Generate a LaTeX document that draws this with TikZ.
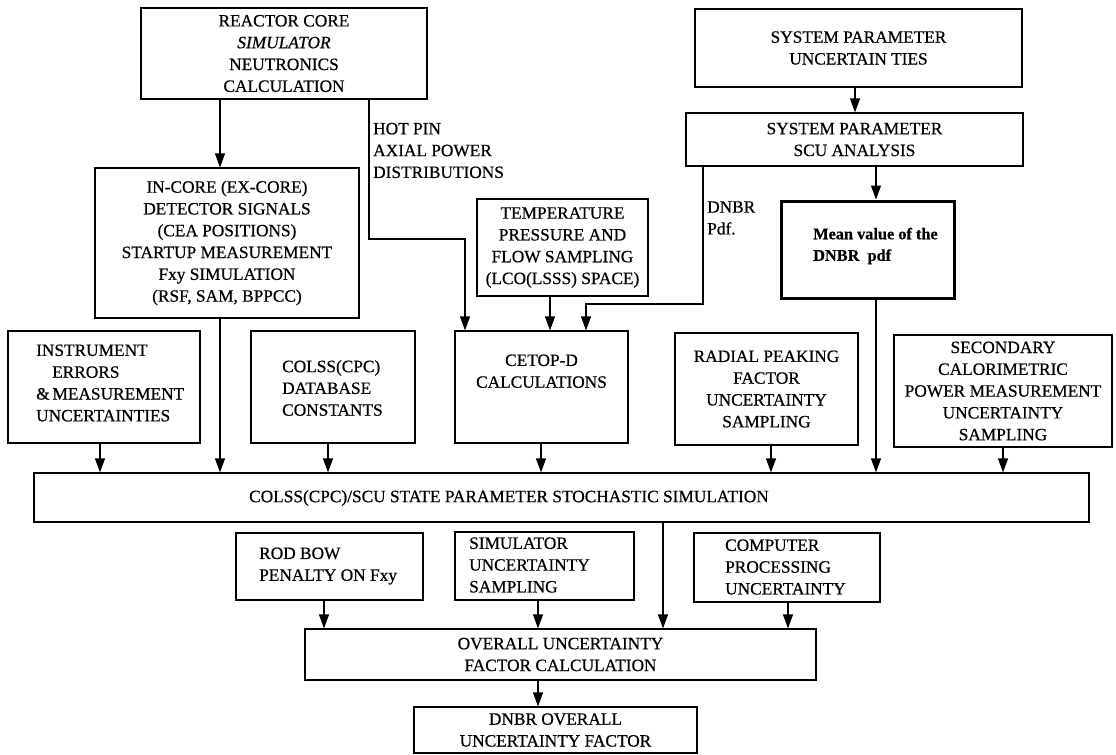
\documentclass[tikz,border=0pt]{standalone}
\usepackage{fontspec}
\setmainfont{Liberation Serif}[FakeBold=0.6]
\usetikzlibrary{arrows.meta}
\begin{document}
\begin{tikzpicture}[x=1bp,y=-1bp,
  every node/.style={font=\fontsize{17.3bp}{21.8bp}\selectfont},
  box/.style={draw, line width=1.2bp, inner sep=0pt, align=center},
  thickbox/.style={draw, line width=3bp, inner sep=0pt},
  txt/.style={inner sep=0pt, align=left},
  meanfont/.style={font=\fontsize{16.3bp}{21.5bp}\selectfont\bfseries},
  arr/.style={line width=1.2bp, -{Triangle[width=10bp,length=14bp]}},
  ln/.style={line width=1.2bp}]
\useasboundingbox (0,0) rectangle (1116,755);

% top row
\node[box, minimum width=286bp, minimum height=91bp] (core) at (284,53.5)
  {REACTOR CORE\\ \textit{SIMULATOR}\\ NEUTRONICS\\ CALCULATION};
\node[box, minimum width=327bp, minimum height=78bp] (sys) at (858.5,48)
  {SYSTEM PARAMETER\\ UNCERTAIN TIES};
\node[box, minimum width=337bp, minimum height=53bp] (scu) at (854.5,139.5)
  {SYSTEM PARAMETER\\ SCU ANALYSIS};

% second row
\node[box, minimum width=264bp, minimum height=150bp] (incore) at (227,243)
  {IN-CORE (EX-CORE)\\ DETECTOR SIGNALS\\ (CEA POSITIONS)\\ STARTUP MEASUREMENT\\ Fxy SIMULATION\\ (RSF, SAM, BPPCC)};
\node[box, minimum width=171bp, minimum height=97bp] (temp) at (562.5,247.5)
  {TEMPERATURE\\ PRESSURE AND\\ FLOW SAMPLING\\ (LCO(LSSS) SPACE)};
\node[thickbox, minimum width=173bp, minimum height=97bp] (mean) at (867.5,249.5) {};
\node[txt, meanfont, anchor=west] (meantxt) at (813,246) {Mean value of the\\ DNBR\ \ pdf};

\node[txt, anchor=west] (hotpin) at (373,150.5) {HOT PIN\\ AXIAL POWER\\ DISTRIBUTIONS};
\node[txt, anchor=west] (dnbrpdf) at (707,218) {DNBR\\ Pdf.};

% third row
\node[box, minimum width=192bp, minimum height=112bp] (instr) at (104,387) {};
\node[txt, anchor=west] (instrtxt) at (36,383)
  {INSTRUMENT\\ \hspace*{16bp}ERRORS\\ \&\,MEASUREMENT\\ UNCERTAINTIES};
\node[box, minimum width=164bp, minimum height=112bp] (colss) at (333,387) {};
\node[txt, anchor=west] (colsstxt) at (282,388) {COLSS(CPC)\\ DATABASE\\ CONSTANTS};
\node[box, minimum width=173bp, minimum height=112bp] (cetop) at (541.5,387)
  {CETOP-D\\ CALCULATIONS\\[10bp]};
\node[box, minimum width=183bp, minimum height=112bp] (radial) at (766.5,389)
  {RADIAL PEAKING\\ FACTOR\\ UNCERTAINTY\\ SAMPLING};
\node[box, minimum width=218bp, minimum height=112bp] (sec) at (1003,391)
  {SECONDARY\\ CALORIMETRIC\\ POWER MEASUREMENT\\ UNCERTAINTY\\ SAMPLING};

% stochastic
\node[box, minimum width=1055bp, minimum height=49bp] (stoch) at (561.5,497.5) {};
\node[txt] (stochtxt) at (509,498) {COLSS(CPC)/SCU STATE PARAMETER STOCHASTIC SIMULATION};

% lower row
\node[box, minimum width=187bp, minimum height=67bp] (rod) at (329.5,566.5) {};
\node[txt, anchor=west] (rodtxt) at (259,566) {ROD BOW\\ PENALTY ON Fxy};
\node[box, minimum width=179bp, minimum height=68bp] (sim) at (544.5,566) {};
\node[txt, anchor=west] (simtxt) at (469,565) {SIMULATOR\\ UNCERTAINTY\\ SAMPLING};
\node[box, minimum width=186bp, minimum height=69bp] (comp) at (787,567.5) {};
\node[txt, anchor=west] (comptxt) at (725,567) {COMPUTER\\ PROCESSING\\ UNCERTAINTY};

\node[box, minimum width=511bp, minimum height=51bp] (overall) at (560.5,654.5)
  {OVERALL UNCERTAINTY\\ FACTOR CALCULATION};
\node[box, minimum width=283bp, minimum height=46bp] (dnbr) at (555.5,730)
  {DNBR OVERALL\\ UNCERTAINTY FACTOR};

% connectors
\draw[arr] (220,0 |- core.south) -- (220,0 |- incore.north);
\draw[arr] (369,0 |- core.south) -- (369,239) -- (465,239) -- (465,0 |- cetop.north);
\draw[arr] (550,0 |- temp.south) -- (550,0 |- cetop.north);
\draw[arr] (703,0 |- scu.south) -- (703,304) -- (586,304) -- (586,0 |- cetop.north);
\draw[arr] (855,0 |- sys.south) -- (855,0 |- scu.north);
\draw[arr] (876,0 |- scu.south) -- (876,0 |- mean.north);

\draw[arr] (100,0 |- instr.south) -- (100,0 |- stoch.north);
\draw[arr] (220,0 |- incore.south) -- (220,0 |- stoch.north);
\draw[arr] (328,0 |- colss.south) -- (328,0 |- stoch.north);
\draw[arr] (541,0 |- cetop.south) -- (541,0 |- stoch.north);
\draw[arr] (771,0 |- radial.south) -- (771,0 |- stoch.north);
\draw[arr] (876,0 |- mean.south) -- (876,0 |- stoch.north);
\draw[arr] (1003,0 |- sec.south) -- (1003,0 |- stoch.north);

\draw[arr] (324,0 |- rod.south) -- (324,0 |- overall.north);
\draw[arr] (538,0 |- sim.south) -- (538,0 |- overall.north);
\draw[arr] (663,0 |- stoch.south) -- (663,0 |- overall.north);
\draw[arr] (788,0 |- comp.south) -- (788,0 |- overall.north);
\draw[arr] (538,0 |- overall.south) -- (538,0 |- dnbr.north);
\end{tikzpicture}
\end{document}
